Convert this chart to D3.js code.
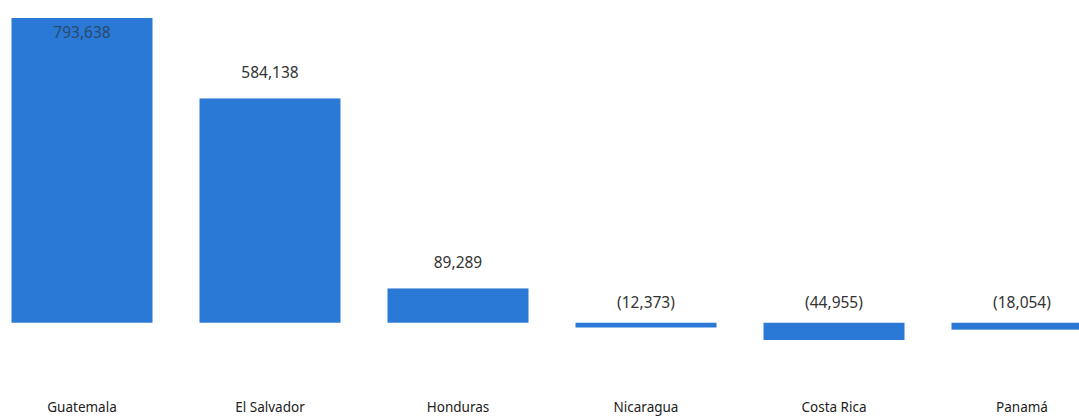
<!DOCTYPE html>
<html>
<head>
<meta charset="utf-8">
<script src="https://cdn.jsdelivr.net/npm/d3@7"></script>
<style>
  html, body { margin: 0; padding: 0; background: #ffffff; }
  svg { display: block; }
</style>
</head>
<body>
<svg id="chart" width="1079" height="417"></svg>
<script>
const categories = ["Guatemala", "El Salvador", "Honduras", "Nicaragua", "Costa Rica", "Panamá"];
const values = [793638, 584138, 89289, -12373, -44955, -18054];
const valueLabels = ["793,638", "584,138", "89,289", "(12,373)", "(44,955)", "(18,054)"];

const svg = d3.select("#chart");

const x = d3.scaleBand()
  .domain(categories)
  .range([-12, 1116])
  .paddingInner(0.25)
  .paddingOuter(0.125);

const y = d3.scaleLinear()
  .domain([d3.min(values), d3.max(values)])
  .range([340, 18]);

const blue = "#2b79d6";
const textColor = "#333333";
const font = "'Noto Sans', 'Open Sans', sans-serif";

const data = categories.map((c, i) => ({ c, v: values[i], label: valueLabels[i] }));

svg.append("g").selectAll("rect")
  .data(data)
  .join("rect")
  .attr("x", d => x(d.c))
  .attr("width", x.bandwidth())
  .attr("y", d => Math.min(y(d.v), y(0)))
  .attr("height", d => Math.max(Math.abs(y(d.v) - y(0)), 3))
  .attr("fill", blue);

svg.append("g").selectAll("text")
  .data(data)
  .join("text")
  .attr("x", d => x(d.c) + x.bandwidth() / 2)
  .attr("y", d => {
    if (d.v >= 0) {
      const yy = y(d.v) - 20;
      return yy < 30 ? y(d.v) + 20 : yy;
    }
    return y(0) - 15;
  })
  .attr("text-anchor", "middle")
  .attr("font-family", font)
  .attr("font-size", 15.5)
  .attr("fill", d => (d.v >= 0 && y(d.v) - 20 < 30) ? "#2a4a6e" : textColor)
  .text(d => d.label);

const xAxis = d3.axisBottom(x).tickSize(0).tickPadding(0);
const gx = svg.append("g")
  .attr("transform", `translate(0, ${402})`)
  .call(xAxis);
gx.select(".domain").remove();
gx.selectAll("text")
  .attr("font-family", font)
  .attr("font-size", 13.5)
  .attr("fill", "#222222");
</script>
</body>
</html>
